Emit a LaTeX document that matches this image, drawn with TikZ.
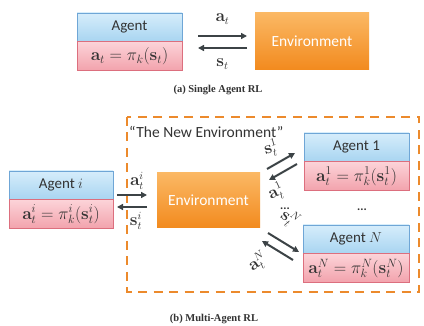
\documentclass[tikz,border=0pt]{standalone}
\usepackage[no-math]{fontspec}
\setmainfont{Carlito}
\newfontfamily\capfont{Liberation Serif}
\usetikzlibrary{arrows.meta}
\definecolor{bluetop}{HTML}{D6EDFB}
\definecolor{bluebot}{HTML}{A9D5F1}
\definecolor{blueline}{HTML}{6FA6D6}
\definecolor{pinktop}{HTML}{FCD3D8}
\definecolor{pinkbot}{HTML}{F2A2AC}
\definecolor{pinkline}{HTML}{DC6F7E}
\definecolor{envtop}{HTML}{FBB864}
\definecolor{envbot}{HTML}{F28A1E}
\definecolor{dashorange}{HTML}{EC8A2C}
\definecolor{arrowgray}{HTML}{3C4346}
\definecolor{txtgray}{HTML}{333333}
\tikzset{
  namebox/.style={draw=blueline, line width=0.8pt, top color=bluetop, bottom color=bluebot,
    minimum height=28pt, inner sep=0pt, text=txtgray, font=\fontsize{15}{15}\selectfont},
  policybox/.style={draw=pinkline, line width=0.8pt, top color=pinktop, bottom color=pinkbot,
    minimum height=29pt, inner sep=0pt, text=txtgray, font=\fontsize{16.5}{16.5}\selectfont},
  envbox/.style={top color=envtop, bottom color=envbot, inner sep=0pt, text=white,
    font=\fontsize{15.5}{15.5}\selectfont},
  flow/.style={draw=arrowgray, line width=2pt, -{Triangle[length=6pt,width=6pt]}},
  lbl/.style={text=txtgray, inner sep=0pt, font=\fontsize{16}{16}\selectfont},
  caption/.style={font=\capfont\bfseries\fontsize{10.5}{10.5}\selectfont, text=txtgray},
  dotlbl/.style={font=\bfseries\fontsize{12}{12}\selectfont, text=txtgray, inner sep=0pt}
}
\begin{document}
\begin{tikzpicture}[x=1pt,y=-1pt]
\useasboundingbox[fill=white] (0,0) rectangle (424,326);

% ---------- (a) single agent ----------
\node[namebox, minimum width=105pt] (agA) at (129.5,27) {Agent};
\node[policybox, minimum width=105pt, anchor=north] (polA) at (agA.south) {$\mathbf{a}_t = \pi_k(\mathbf{s}_t)$};
\node[envbox, minimum width=114pt, minimum height=57pt] (envA) at (312,41.5) {Environment};
\coordinate (a1) at (198,36);  \coordinate (a2) at (247,36);
\coordinate (s1) at (247,48);  \coordinate (s2) at (198,48);
\draw[flow] (a1) -- (a2);
\draw[flow] (s1) -- (s2);
\node[lbl] (lat) at (222.5,19) {$\mathbf{a}_t$};
\node[lbl] (lst) at (222.5,64) {$\mathbf{s}_t$};
\node[caption] (capA) at (218,90) {(a) Single Agent RL};

% ---------- (b) multi agent ----------
\draw[dashorange, line width=2.5pt, dash pattern=on 9pt off 6.5pt] (127,117) rectangle (419,292);
\node[anchor=west, inner sep=0pt, text=txtgray, font=\fontsize{15.5}{15.5}\selectfont] (newenv) at (129,132) {``The New Environment''};

\node[namebox, minimum width=104pt] (agI) at (61,185) {Agent $i$};
\node[policybox, minimum width=104pt, anchor=north] (polI) at (agI.south) {$\mathbf{a}_t^i = \pi_k^i(\mathbf{s}_t^i)$};
\node[envbox, minimum width=103pt, minimum height=55pt] (envB) at (208.5,200.5) {Environment};
\coordinate (b1) at (117,195); \coordinate (b2) at (147,195);
\coordinate (b3) at (147,207); \coordinate (b4) at (117,207);
\draw[flow] (b1) -- (b2);
\draw[flow] (b3) -- (b4);
\node[lbl] (lai) at (137,181) {$\mathbf{a}_t^i$};
\node[lbl] (lsi) at (136,221) {$\mathbf{s}_t^i$};

\node[namebox, minimum width=105pt] (ag1) at (356.5,147) {Agent 1};
\node[policybox, minimum width=105pt, anchor=north] (pol1) at (ag1.south) {$\mathbf{a}_t^1 = \pi_k^1(\mathbf{s}_t^1)$};
\node[namebox, minimum width=106pt] (agN) at (356,239) {Agent $N$};
\node[policybox, minimum width=106pt, anchor=north] (polN) at (agN.south) {$\mathbf{a}_t^N = \pi_k^N(\mathbf{s}_t^N)$};

% links to agent 1
\coordinate (c1) at (267,169); \coordinate (c2) at (295,153);
\coordinate (c3) at (297,164); \coordinate (c4) at (269,180);
\draw[flow] (c1) -- (c2);
\draw[flow] (c3) -- (c4);
\node[lbl, rotate=15] (ls1) at (271,148) {$\mathbf{s}_t^1$};
\node[lbl, rotate=25] (la1) at (276,192) {$\mathbf{a}_t^1$};

% links to agent N
\coordinate (d1) at (268,233); \coordinate (d2) at (299,252);
\coordinate (d3) at (293,260); \coordinate (d4) at (262,241);
\draw[flow] (d1) -- (d2);
\draw[flow] (d3) -- (d4);
\node[lbl, rotate=-35] (lsN) at (290,219) {$\mathbf{s}_t^N$};
\node[lbl, rotate=35] (laN) at (258,262) {$\mathbf{a}_t^N$};

\node[dotlbl] (dots1) at (285,209) {...};
\node[dotlbl] (dots2) at (362,210) {...};

\node[caption] (capB) at (214,319) {(b) Multi-Agent RL};
\end{tikzpicture}
\end{document}
